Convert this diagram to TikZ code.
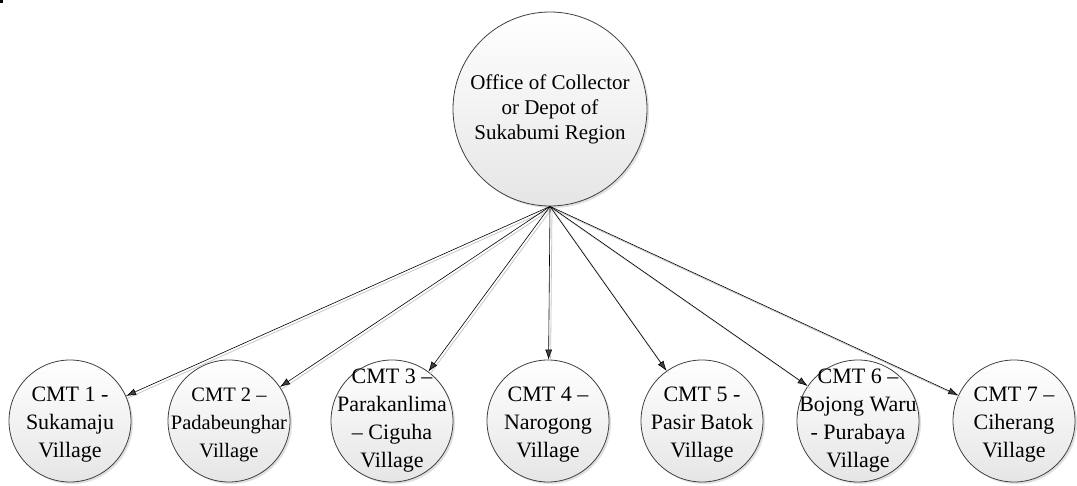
\documentclass[tikz,border=0pt]{standalone}
\usepackage{fontspec}
\setmainfont{Liberation Serif}
\usetikzlibrary{arrows.meta,shadows}
\definecolor{edgegray}{HTML}{404040}
\tikzset{
  circbase/.style={circle, inner sep=0pt, draw=edgegray, line width=0.8pt,
    top color=white, bottom color=black!10,
    drop shadow={shadow xshift=2pt, shadow yshift=-2pt, fill=black, opacity=0.12}},
  topcirc/.style={circbase, minimum size=194pt},
  bcirc/.style={circbase, minimum size=122pt},
  toptxt/.style={align=center, inner sep=0pt, text=black, font=\fontsize{21}{25}\selectfont},
  txt/.style={align=center, inner sep=0pt, text=black, yshift=-4pt, font=\fontsize{22}{28}\selectfont},
  txtfour/.style={txt, yshift=4pt},
  smalltxt/.style={txt, font=\fontsize{20.5}{28}\selectfont},
  conn/.style={draw=black, line width=0.6pt, -{Latex[length=10pt,width=7pt,fill=edgegray]}},
  connshadow/.style={draw=black!22, line width=0.8pt, transform canvas={xshift=2pt,yshift=-2pt}}
}
\begin{document}
\begin{tikzpicture}[x=1pt,y=-1pt]
\useasboundingbox (0,0) rectangle (1077,486);
\fill[black] (0,0) rectangle (3,3);
\node[topcirc, label={[toptxt]center:{Office of Collector\\or Depot of\\Sukabumi Region}}] (top) at (550,109) {};
\node[bcirc, label={[txt]center:{CMT 1 -\\Sukamaju\\Village}}] (c1) at (70,421) {};
\node[bcirc, label={[smalltxt]center:{CMT 2 –\\Padabeunghar\\Village}}] (c2) at (229,421) {};
\node[bcirc, label={[txtfour]center:{CMT 3 –\\Parakanlima\\– Ciguha\\Village}}] (c3) at (392,421) {};
\node[bcirc, label={[txt]center:{CMT 4 –\\Narogong\\Village}}] (c4) at (548,421) {};
\node[bcirc, label={[txt]center:{CMT 5 -\\Pasir Batok\\Village}}] (c5) at (702,421) {};
\node[bcirc, label={[txtfour]center:{CMT 6 –\\Bojong Waru\\- Purabaya\\Village}}] (c6) at (858,421) {};
\node[bcirc, label={[txt]center:{CMT 7 –\\Ciherang\\Village}}] (c7) at (1014,421) {};
\foreach \c in {c1,c2,c3,c4,c5,c6,c7}{
  \draw[connshadow] (top.south) -- (\c);
}
\foreach \c in {c1,c2,c3,c4,c5,c6,c7}{
  \draw[conn] (top.south) -- (\c);
}
\end{tikzpicture}
\end{document}
